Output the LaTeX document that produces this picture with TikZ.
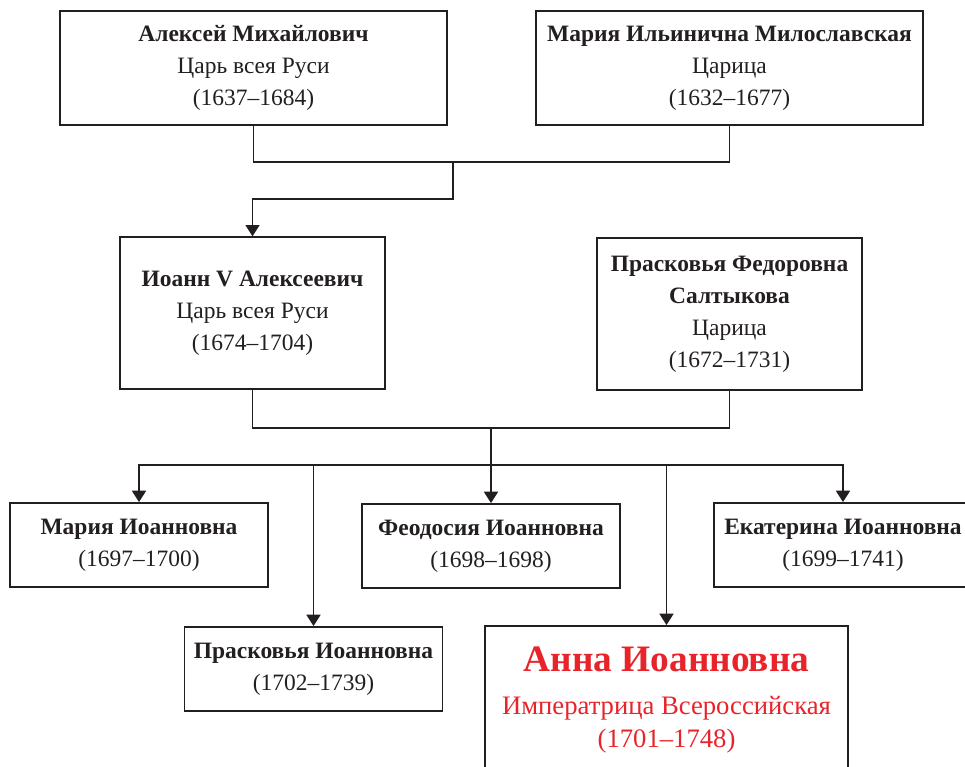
\documentclass[tikz,border=0pt]{standalone}
\usepackage{fontspec}
\setmainfont{Liberation Serif}
\usetikzlibrary{arrows.meta}
\definecolor{ink}{RGB}{35,31,32}
\definecolor{annared}{RGB}{232,36,42}
\begin{document}
\begin{tikzpicture}[x=0.75pt,y=-0.75pt,
  box/.style={draw=ink, line width=1.4pt, align=center, inner sep=0pt, text=ink,
    font=\fontsize{17.6}{24}\selectfont},
  parent/.style={box, minimum width=290.25pt, minimum height=85.5pt},
  mid/.style={box, minimum width=198.75pt, minimum height=113.6pt},
  child/.style={box, minimum width=193.5pt, minimum height=63pt},
  link/.style={draw=ink, line width=1.2pt},
  arr/.style={link, -{Triangle[width=10.5pt,length=8.5pt]}},
]
\useasboundingbox (0,0) rectangle (965,767);
\fill[white] (0,0) rectangle (965,767);
\clip (0,0) rectangle (965,767);

\node[parent] (A) at (253.5,68) {\textbf{Алексей Михайлович}\\Царь всея Руси\\(1637–1684)};
\node[parent] (M) at (729.5,68) {\textbf{Мария Ильинична Милославская}\\Царица\\(1632–1677)};

\node[mid] (I) at (252.5,313) {\textbf{Иоанн V Алексеевич}\\Царь всея Руси\\(1674–1704)};
\node[mid] (P) at (729.5,314) {\textbf{Прасковья Федоровна}\\\textbf{Салтыкова}\\Царица\\(1672–1731)};

\node[child] (c1) at (139,545) {\textbf{Мария Иоанновна}\\(1697–1700)};
\node[child] (c2) at (491,546) {\textbf{Феодосия Иоанновна}\\(1698–1698)};
\node[child] (c3) at (843,545) {\textbf{Екатерина Иоанновна}\\(1699–1741)};
\node[child] (c4) at (313.5,669) {\textbf{Прасковья Иоанновна}\\(1702–1739)};
\node[box, text=annared, minimum width=272.25pt, minimum height=111pt,
  font=\fontsize{20}{25}\selectfont] (c5) at (666.5,700)
  {{\fontsize{28}{30}\selectfont\bfseries Анна Иоанновна}\\[7pt]Императрица Всероссийская\\(1701–1748)};

\coordinate (j1) at (453,162);
\coordinate (j2) at (453,199);
\draw[link] (A.south) |- (j1) -| (M.south);
\draw[arr] (j1) -- (j2) -| (I.north);

\coordinate (k1) at (491,428);
\coordinate (k2) at (491,465);
\draw[link] (I.south) |- (k1) -| (P.south);
\draw[arr] (k1) -- (c2.north);
\draw[arr] (k2) -| (c1.north);
\draw[arr] (k2) -| (c3.north);
\draw[arr] (c4.north |- k2) -- (c4.north);
\draw[arr] (c5.north |- k2) -- (c5.north);
\end{tikzpicture}
\end{document}
